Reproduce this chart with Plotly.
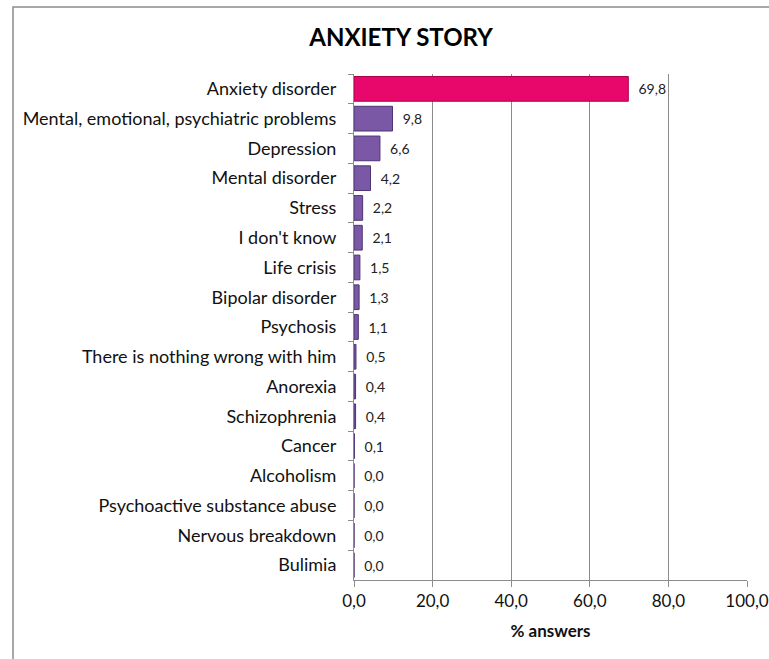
import plotly.graph_objects as go

categories = ["Anxiety disorder", "Mental, emotional, psychiatric problems", "Depression",
              "Mental disorder", "Stress", "I don't know", "Life crisis", "Bipolar disorder",
              "Psychosis", "There is nothing wrong with him", "Anorexia", "Schizophrenia",
              "Cancer", "Alcoholism", "Psychoactive substance abuse", "Nervous breakdown", "Bulimia"]
values = [69.8, 9.8, 6.6, 4.2, 2.2, 2.1, 1.5, 1.3, 1.1, 0.5, 0.4, 0.4, 0.1, 0.0, 0.0, 0.0, 0.0]
tick_vals = [0, 20, 40, 60, 80, 100]
tick_text = ["0,0", "20,0", "40,0", "60,0", "80,0", "100,0"]

colors = ["#E8086C"] + ["#7A58A6"] * (len(values) - 1)
line_colors = ["#A8004A"] + ["#4E3475"] * (len(values) - 1)
labels = [f"{v:.1f}".replace(".", ",") for v in values]

fig = go.Figure(go.Bar(
    x=values, y=categories, orientation="h",
    marker=dict(color=colors, line=dict(color=line_colors, width=1)),
    text=labels, texttemplate="  %{text}", textposition="outside", cliponaxis=False,
    textfont=dict(family="Lato, Open Sans, sans-serif", size=14, color="#222222"),
))

fig.update_layout(
    width=769, height=659,
    margin=dict(l=354, r=22, t=74, b=79, autoexpand=False),
    paper_bgcolor="white", plot_bgcolor="white",
    showlegend=False, bargap=0.17,
    title=dict(text="<b>ANXIETY STORY</b>", x=(401) / 769, xanchor="center",
               y=1 - 38 / 659, yanchor="middle",
               font=dict(family="Lato, sans-serif", size=24, color="#000000")),
    font=dict(family="Lato, Open Sans, sans-serif", color="#111111"),
    xaxis=dict(range=[0, 100], tickvals=tick_vals, ticktext=tick_text, automargin=False,
               showgrid=True, gridcolor="#8C8C8C", gridwidth=1,
               ticks="outside", ticklen=6, tickcolor="#8C8C8C",
               showline=True, linecolor="#8C8C8C", zeroline=False,
               tickfont=dict(size=17, color="#111111"),
               title=dict(text="<b>% answers</b>", font=dict(size=17, color="#111111"), standoff=14)),
    yaxis=dict(autorange="reversed", showline=True, linecolor="#8C8C8C", automargin=False,
               ticks="outside", ticklen=5, tickcolor="#8C8C8C", tickson="boundaries",
               tickfont=dict(size=18, color="#111111"), showgrid=False, ticklabelstandoff=13),
    shapes=[dict(type="rect", xref="paper", yref="paper",
                 x0=(13 - 354) / 393, x1=1.2, y0=-0.3, y1=1 + (74 - 7) / 506,
                 line=dict(color="#8C8C8C", width=1.5), fillcolor="rgba(0,0,0,0)", layer="below")],
)

fig.write_html("out.html")
